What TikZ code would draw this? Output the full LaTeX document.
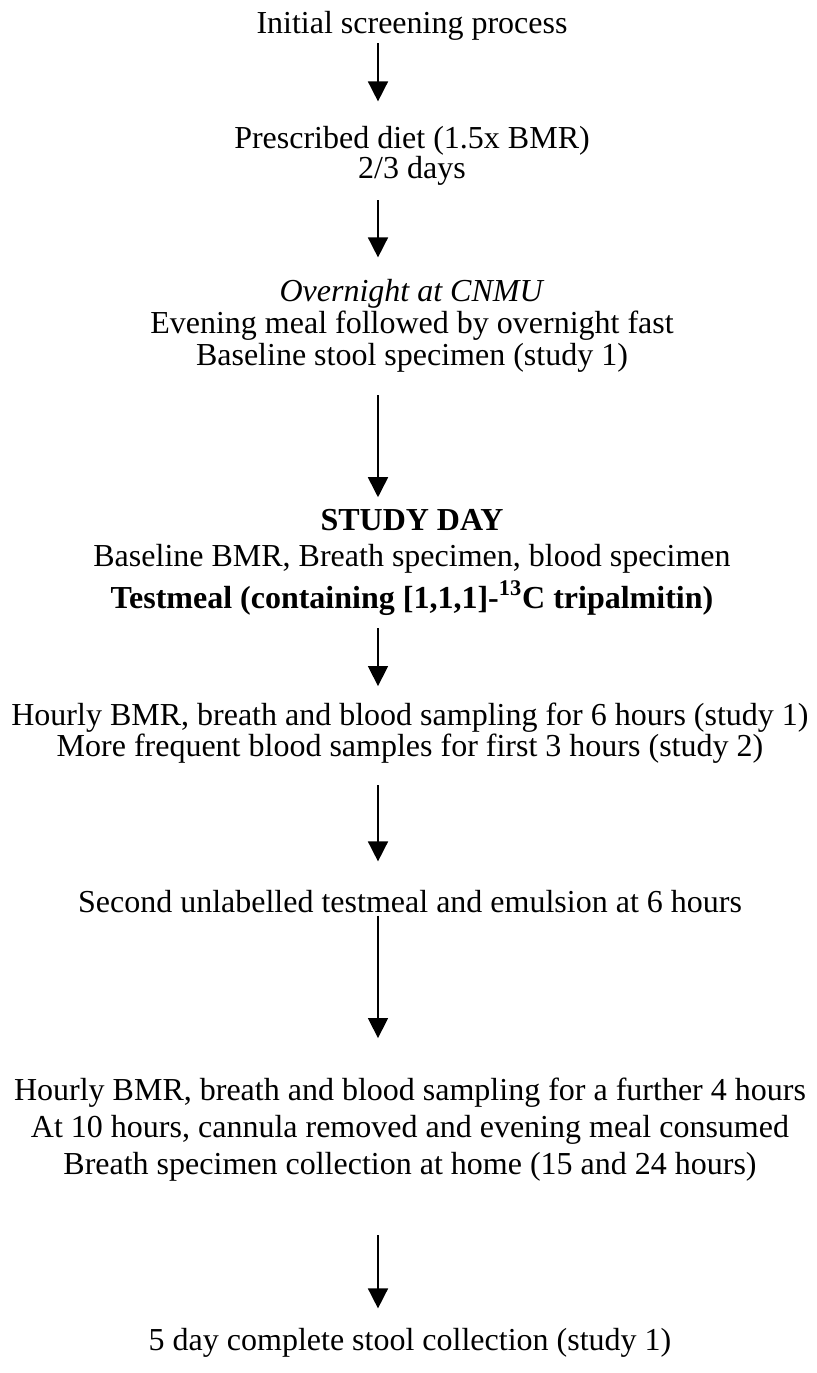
\documentclass[tikz,border=0pt]{standalone}
\usepackage{fontspec}
\setmainfont{Liberation Serif}
\usetikzlibrary{arrows.meta}

\begin{document}
\begin{tikzpicture}[x=1pt, y=-1pt, font=\fontsize{16pt}{16pt}\selectfont,
  >={Triangle[width=10pt,length=10pt]},
  stage/.style={align=center, anchor=base, inner sep=0pt},
  flow/.style={->, line width=0.8pt}]
\useasboundingbox (0,0) rectangle (408.5,686.5);
\coordinate (spine) at (189,0);
% nodes sit on the baseline of their last line
\node[stage] (init)      at (206,16.5)  {Initial screening process};
\node[stage] (diet)      at (206,89)    {Prescribed diet (1.5x BMR)\\[-1pt]2/3 days};
\node[stage] (overnight) at (206,182.5) {\textit{Overnight at CNMU}\\Evening meal followed by overnight fast\\Baseline stool specimen (study 1)};
\node[stage] (studyday)  at (206,304)   {\textbf{STUDY DAY}\\[2pt]Baseline BMR, Breath specimen, blood specimen\\[2.5pt]
  \textbf{Testmeal (containing [1,1,1]-\textsuperscript{13}C tripalmitin)}};
\node[stage] (hourly)    at (205,378)   {Hourly BMR, breath and blood sampling for 6 hours (study 1)\\[-0.5pt]More frequent blood samples for first 3 hours (study 2)};
\node[stage] (second)    at (205,456)   {Second unlabelled testmeal and emulsion at 6 hours};
\node[stage] (further)   at (205,587)   {Hourly BMR, breath and blood sampling for a further 4 hours\\[2.5pt]At 10 hours, cannula removed and evening meal consumed\\[2.5pt]Breath specimen collection at home (15 and 24 hours)};
\node[stage] (stool)     at (205,675)   {5 day complete stool collection (study 1)};
% arrows down the left of centre, as in the scan
\draw[flow, shorten <=1.5pt,  shorten >=12pt]   (init.south -| spine)      -- (diet.north -| spine);
\draw[flow, shorten <=7.5pt,  shorten >=10.5pt] (diet.south -| spine)      -- (overnight.north -| spine);
\draw[flow, shorten <=11.5pt, shorten >=6pt]    (overnight.south -| spine) -- (studyday.north -| spine);
\draw[flow, shorten <=6.5pt,  shorten >=8pt]    (studyday.south -| spine)  -- (hourly.north -| spine);
\draw[flow, shorten <=11pt,   shorten >=14pt]   (hourly.south -| spine)    -- (second.north -| spine);
\draw[flow, shorten <=1.5pt,  shorten >=19.5pt] (second.south -| spine)    -- (further.north -| spine);
\draw[flow, shorten <=27pt,   shorten >=9.5pt]  (further.south -| spine)   -- (stool.north -| spine);
\end{tikzpicture}
\end{document}
